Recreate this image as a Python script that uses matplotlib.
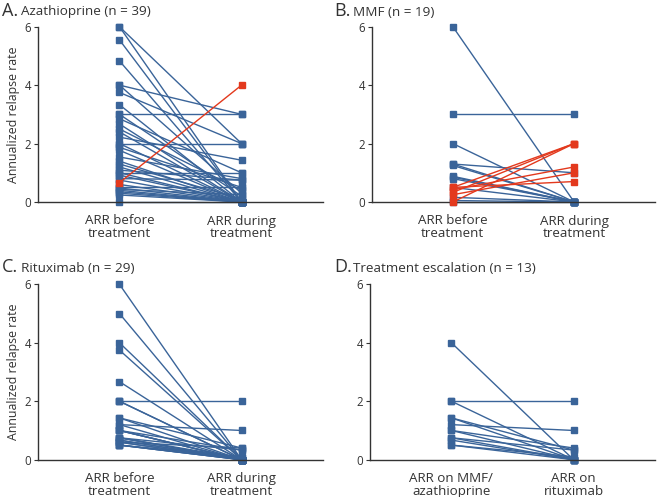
import numpy as np
import matplotlib
matplotlib.use("Agg")
import matplotlib.pyplot as plt

plt.rcParams['font.family'] = ['Open Sans', 'DejaVu Sans']

BLUE = '#3a6499'
RED = '#e3391d'
GREY = '#333333'

# A. Azathioprine (n = 39)
aza_before = [6.0, 6.0, 5.55, 4.83, 4.0, 4.0, 3.75, 3.33, 3.0, 3.0, 2.85, 2.67, 2.5,
              2.4, 2.22, 2.0, 2.0, 1.87, 1.77, 1.54, 1.4, 1.3, 1.2, 1.09, 1.0, 1.0,
              0.92, 0.8, 0.75, 0.66, 0.6, 0.5, 0.48, 0.43, 0.4, 0.35, 0.3, 0.24, 0.0]
aza_during = [2.0, 0.0, 0.0, 0.0, 3.0, 0.3, 2.0, 0.0, 3.0, 0.2, 1.0, 0.0, 0.4,
              0.0, 1.43, 2.0, 0.0, 0.5, 0.0, 0.8, 0.0, 0.1, 0.0, 0.75, 1.0, 0.0,
              0.0, 0.75, 0.0, 4.0, 0.0, 0.5, 0.0, 0.25, 0.0, 0.0, 0.0, 0.0, 0.0]
aza_worse = [29]

# B. MMF (n = 19)
mmf_before = [6.0, 3.0, 2.0, 1.3, 1.25, 1.3, 0.88, 0.8, 0.85, 0.5, 0.16, 0.05, 0.0,
              0.5, 0.0, 0.33, 0.42, 0.25, 0.5]
mmf_during = [0.0, 3.0, 0.0, 1.0, 0.0, 0.0, 0.0, 0.0, 0.0, 0.0, 0.0, 0.0, 0.0,
              2.0, 2.0, 2.0, 1.2, 1.0, 0.7]
mmf_worse = [13, 14, 15, 16, 17, 18]

# C. Rituximab (n = 29)
rtx_before = [6.0, 5.0, 4.0, 3.75, 2.67, 2.0, 2.0, 1.43, 1.43, 1.2, 1.2, 1.0, 1.0,
              1.0, 0.75, 0.75, 0.75, 0.67, 0.67, 0.6, 0.6, 0.5, 0.5, 0.5, 0.5,
              1.0, 0.75, 2.0, 0.6]
rtx_during = [0.0, 0.0, 0.0, 0.0, 0.0, 2.0, 0.0, 0.0, 0.4, 1.0, 0.0, 0.0, 0.33,
              0.0, 0.0, 0.05, 0.33, 0.0, 0.0, 0.0, 0.4, 0.0, 0.0, 0.1, 0.0,
              0.0, 0.0, 0.0, 0.0]

# D. Treatment escalation (n = 13)
esc_before = [4.0, 2.0, 2.0, 1.43, 1.2, 1.0, 1.0, 0.75, 0.75, 0.67, 0.5, 1.43, 0.5]
esc_during = [0.0, 2.0, 0.0, 0.33, 1.0, 0.4, 0.0, 0.0, 0.33, 0.0, 0.0, 0.0, 0.1]

panels = [
    ('A.', 'Azathioprine (n = 39)', aza_before, aza_during, aza_worse,
     ['ARR before\ntreatment', 'ARR during\ntreatment'], True),
    ('B.', 'MMF (n = 19)', mmf_before, mmf_during, mmf_worse,
     ['ARR before\ntreatment', 'ARR during\ntreatment'], False),
    ('C.', 'Rituximab (n = 29)', rtx_before, rtx_during, [],
     ['ARR before\ntreatment', 'ARR during\ntreatment'], True),
    ('D.', 'Treatment escalation (n = 13)', esc_before, esc_during, [],
     ['ARR on MMF/\nazathioprine', 'ARR on\nrituximab'], False),
]

W, H = 657, 497
fig = plt.figure(figsize=(W / 100, H / 100), dpi=100)

# axes boxes in pixels: left, right, top, bottom
boxes = [(38, 323, 26.7, 202), (372, 655, 26.7, 202),
         (38, 323, 284.3, 459.7), (370, 655, 284.3, 459.7)]
title_pos = [(2, 15.5), (334, 15.5), (2, 272), (334, 272)]

for (letter, title, before, during, worse, xlabels, ylab), (l, r, t, b), (tx, ty) in zip(panels, boxes, title_pos):
    ax = fig.add_axes([l / W, 1 - b / H, (r - l) / W, (b - t) / H])
    # blue first, red on top
    for i, (y0, y1) in enumerate(zip(before, during)):
        if i in worse:
            continue
        ax.plot([1, 2.5], [y0, y1], '-s', color=BLUE, lw=1.0, ms=3.8, clip_on=False)
    for i in worse:
        ax.plot([1, 2.5], [before[i], during[i]], '-s', color=RED, lw=1.0, ms=3.8,
                clip_on=False, zorder=3)
    ax.set_xlim(0, 3.5)
    ax.set_ylim(0, 6)
    ax.set_yticks([0, 2, 4, 6])
    ax.set_xticks([1, 2.5])
    ax.set_xticklabels(xlabels, fontsize=9.6, color=GREY, linespacing=0.95)
    ax.tick_params(axis='x', length=0, pad=9)
    ax.tick_params(axis='y', length=3, width=0.8, color=GREY, labelsize=8.3, labelcolor=GREY, pad=2)
    for s in ['top', 'right']:
        ax.spines[s].set_visible(False)
    for s in ['left', 'bottom']:
        ax.spines[s].set_color(GREY)
        ax.spines[s].set_linewidth(1.0)
    if ylab:
        ax.set_ylabel('Annualized relapse rate', fontsize=8.9, color=GREY, labelpad=3)
    fig.text(tx / W, 1 - ty / H, letter, fontsize=13, color=GREY, va='baseline')
    fig.text((tx + 19) / W, 1 - ty / H, title, fontsize=9.7, color=GREY, va='baseline')

fig.savefig('out.png', dpi=100)
